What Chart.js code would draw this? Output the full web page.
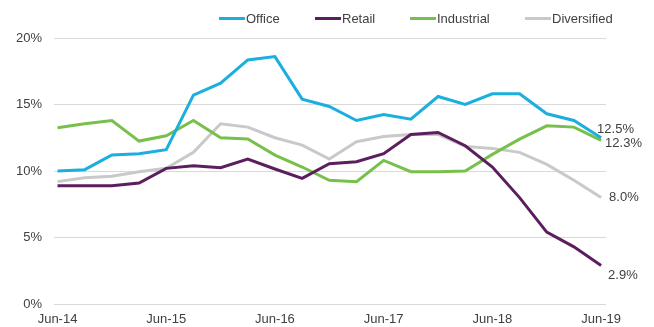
<!DOCTYPE html>
<html><head><meta charset="utf-8">
<script src="https://cdn.jsdelivr.net/npm/chart.js@4"></script>
<style>html,body{margin:0;padding:0;background:#fff}#w{width:654px;height:327px}</style>
</head><body><div id="w"><canvas id="c"></canvas></div>
<script>
const quarters = ['Jun-14','Sep-14','Dec-14','Mar-15','Jun-15','Sep-15','Dec-15','Mar-16','Jun-16','Sep-16','Dec-16','Mar-17','Jun-17','Sep-17','Dec-17','Mar-18','Jun-18','Sep-18','Dec-18','Mar-19','Jun-19'];
const office      = [10.0,10.1,11.2,11.3,11.6,15.7,16.6,18.35,18.6,15.4,14.85,13.8,14.25,13.9,15.6,15.0,15.8,15.8,14.3,13.8,12.5];
const retail      = [8.9,8.9,8.9,9.1,10.2,10.4,10.25,10.9,10.15,9.45,10.55,10.7,11.3,12.75,12.9,11.9,10.3,8.0,5.4,4.3,2.9];
const industrial  = [13.25,13.55,13.8,12.25,12.65,13.8,12.5,12.4,11.2,10.3,9.3,9.2,10.8,9.95,9.95,10.0,11.25,12.4,13.4,13.3,12.3];
const diversified = [9.2,9.5,9.6,9.95,10.2,11.4,13.55,13.3,12.5,11.95,10.9,12.2,12.6,12.75,12.75,11.85,11.7,11.4,10.5,9.3,8.0];
const yTicks = [0,5,10,15,20];
const xTickIdx = [0,4,8,12,16,20];
const endLabels = [
  {text:'12.5%', value:12.5, dx:-4, dy:-8},
  {text:'12.3%', value:12.3, dx:4, dy:3},
  {text:'8.0%', value:8.0, dx:8, dy:0},
  {text:'2.9%', value:2.9, dx:7, dy:10}
];
const series = [
  {label:'Office', data:office, color:'#1AAFDF'},
  {label:'Retail', data:retail, color:'#5B1F5E'},
  {label:'Industrial', data:industrial, color:'#77C04B'},
  {label:'Diversified', data:diversified, color:'#C9C9C9'}
];
const FONT = '"Liberation Sans", Arial, sans-serif';

const legendPlugin = {
  id:'customLegend',
  afterDraw(chart){
    const ctx = chart.ctx;
    ctx.save();
    ctx.font = '13px ' + FONT;
    ctx.textBaseline = 'middle';
    const starts = [219,315,410,525];
    chart.data.datasets.forEach((ds,i)=>{
      const x = starts[i], y = 18.5;
      ctx.fillStyle = ds.borderColor;
      ctx.fillRect(x, y-1.5, 26, 3);
      ctx.fillStyle = '#404040';
      ctx.textAlign = 'left';
      ctx.fillText(ds.label, x+27, y+0.5);
    });
    ctx.restore();
  }
};
const endLabelPlugin = {
  id:'endLabels',
  afterDatasetsDraw(chart){
    const ctx = chart.ctx, xs = chart.scales.x, ys = chart.scales.y;
    ctx.save();
    ctx.font = '13px ' + FONT;
    ctx.fillStyle = '#404040';
    ctx.textBaseline = 'middle';
    ctx.textAlign = 'left';
    endLabels.forEach(l=>{
      ctx.fillText(l.text, xs.getPixelForValue(20)+l.dx, ys.getPixelForValue(l.value)+l.dy);
    });
    ctx.restore();
  }
};

new Chart(document.getElementById('c'), {
  type:'line',
  data:{
    datasets: series.map(s=>({
      label:s.label,
      data:s.data.map((v,i)=>({x:i,y:v})),
      borderColor:s.color,
      backgroundColor:s.color,
      borderWidth:3,
      pointRadius:0,
      tension:0,
      fill:false
    }))
  },
  options:{
    responsive:true,
    maintainAspectRatio:false,
    animation:false,
    layout:{padding:{top:38,right:48,left:0,bottom:0}},
    plugins:{legend:{display:false},tooltip:{enabled:false}},
    scales:{
      x:{
        type:'linear', min:-0.13, max:20.18,
        grid:{display:false, drawTicks:false},
        border:{display:false},
        afterBuildTicks(s){ s.ticks = xTickIdx.map(v=>({value:v})); },
        afterFit(s){ s.height = 23; },
        ticks:{padding:8, color:'#404040', font:{family:FONT,size:13}, maxRotation:0, autoSkip:false,
          callback:(v)=>quarters[v]}
      },
      y:{
        min:0, max:20,
        afterBuildTicks(s){ s.ticks = yTicks.map(v=>({value:v})); },
        afterFit(s){ s.width = 54; },
        grid:{color:'#D9D9D9', lineWidth:1, drawTicks:false},
        border:{display:false},
        ticks:{padding:12, color:'#404040', font:{family:FONT,size:13}, callback:(v)=>v+'%'}
      }
    }
  },
  plugins:[legendPlugin,endLabelPlugin]
});
</script></body></html>
